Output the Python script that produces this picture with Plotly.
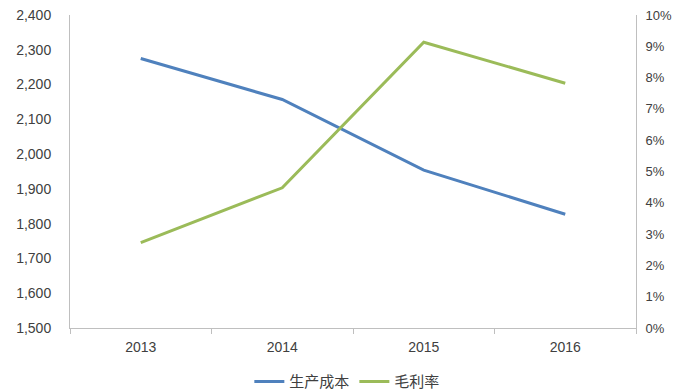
import plotly.graph_objects as go

years = ["2013", "2014", "2015", "2016"]
cost = [2275, 2157, 1954, 1827]          # 生产成本
margin = [0.0273, 0.0448, 0.0913, 0.0782]  # 毛利率

axis_color = "#bfbfbf"
font_color = "#404040"

fig = go.Figure()
fig.add_trace(go.Scatter(
    x=years, y=cost, name="生产成本", mode="lines",
    line=dict(color="#4f81bd", width=3), yaxis="y"))
fig.add_trace(go.Scatter(
    x=years, y=margin, name="毛利率", mode="lines",
    line=dict(color="#9bbb59", width=3), yaxis="y2"))

fig.update_layout(
    width=673, height=392,
    margin=dict(l=70, r=37, t=15, b=64, autoexpand=False),
    paper_bgcolor="white", plot_bgcolor="white",
    font=dict(family="Liberation Sans, Arial, sans-serif", size=14, color=font_color),
    showlegend=True,
    legend=dict(orientation="h", x=0.49, xanchor="center",
                yref="container", y=0.026, yanchor="middle",
                font=dict(family="Noto Sans CJK SC", size=15, color=font_color),
                tracegroupgap=0),
    xaxis=dict(
        range=[-0.5, 3.5], automargin=False,
        showline=True, linecolor=axis_color, linewidth=1,
        showgrid=False, ticks="outside", tickson="boundaries",
        ticklen=5, tickcolor=axis_color, zeroline=False,
        ticklabelstandoff=6,
    ),
    yaxis=dict(
        range=[1500, 2400], dtick=100, tickformat=",", automargin=False,
        showline=True, linecolor=axis_color, linewidth=1,
        showgrid=False, zeroline=False, ticks="", ticklabelstandoff=15,
    ),
    yaxis2=dict(
        range=[0, 0.1], dtick=0.01, tickformat=".0%", automargin=False,
        overlaying="y", side="right", tickfont=dict(size=13),
        showline=True, linecolor=axis_color, linewidth=1,
        showgrid=False, zeroline=False, ticks="", ticklabelstandoff=6,
    ),
)

fig.write_html("out.html")
